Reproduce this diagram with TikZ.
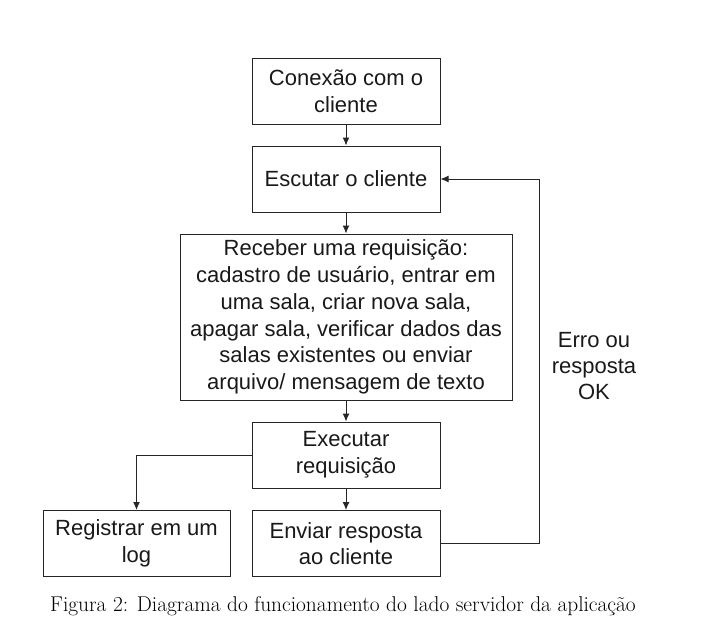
\documentclass[tikz,border=0pt]{standalone}
\usepackage{fontspec}
\newfontfamily\boxfont{Liberation Sans}
\usetikzlibrary{arrows.meta}
\begin{document}
\begin{tikzpicture}[x=1pt,y=1pt,
  box/.style={draw=black!85, line width=1pt, align=center, inner sep=0pt,
    font=\boxfont\fontsize{22}{26.7}\selectfont, text=black!90},
  conn/.style={draw=black!85, line width=1pt, -{Latex[length=8pt,width=7pt]}},
  lbl/.style={align=center, font=\boxfont\fontsize{22}{26}\selectfont, text=black!90}]
\useasboundingbox (0,0) rectangle (708,-630);
\node[box, minimum width=188, minimum height=66] (con) at (346,-91) {Conexão com o\\cliente};
\node[box, minimum width=188, minimum height=66] (esc) at (346,-179) {Escutar o cliente};
\node[box, minimum width=332, minimum height=166] (rec) at (346,-317) {Receber uma requisição:\\cadastro de usuário, entrar em\\uma sala, criar nova sala,\\apagar sala, verificar dados das\\salas existentes ou enviar\\arquivo/ mensagem de texto};
\node[box, minimum width=188, minimum height=66] (exe) at (346,-455) {Executar\\requisição};
\node[box, minimum width=188, minimum height=66] (env) at (346,-543.5) {Enviar resposta\\ao cliente};
\node[box, minimum width=187, minimum height=66] (reg) at (136.5,-543.5) {Registrar em um\\log};
\coordinate (cr) at (539,-543.5);
\coordinate (ct) at (539,-179);
\coordinate (cl) at (136.5,-455);
\draw[conn] (con) -- (esc);
\draw[conn] (esc) -- (rec);
\draw[conn] (rec) -- (exe);
\draw[conn] (exe) -- (env);
\draw[conn] (exe.west) -- (cl) -- (reg.north);
\draw[conn] (env.east) -- (cr) -- (ct) -- (esc.east);
\node[lbl] (erro) at (594,-366) {Erro ou\\resposta\\OK};
\node[font=\fontsize{21.4}{24}\selectfont, anchor=base] (cap) at (343,-611) {Figura 2: Diagrama do funcionamento do lado servidor da aplicação};
\end{tikzpicture}
\end{document}
